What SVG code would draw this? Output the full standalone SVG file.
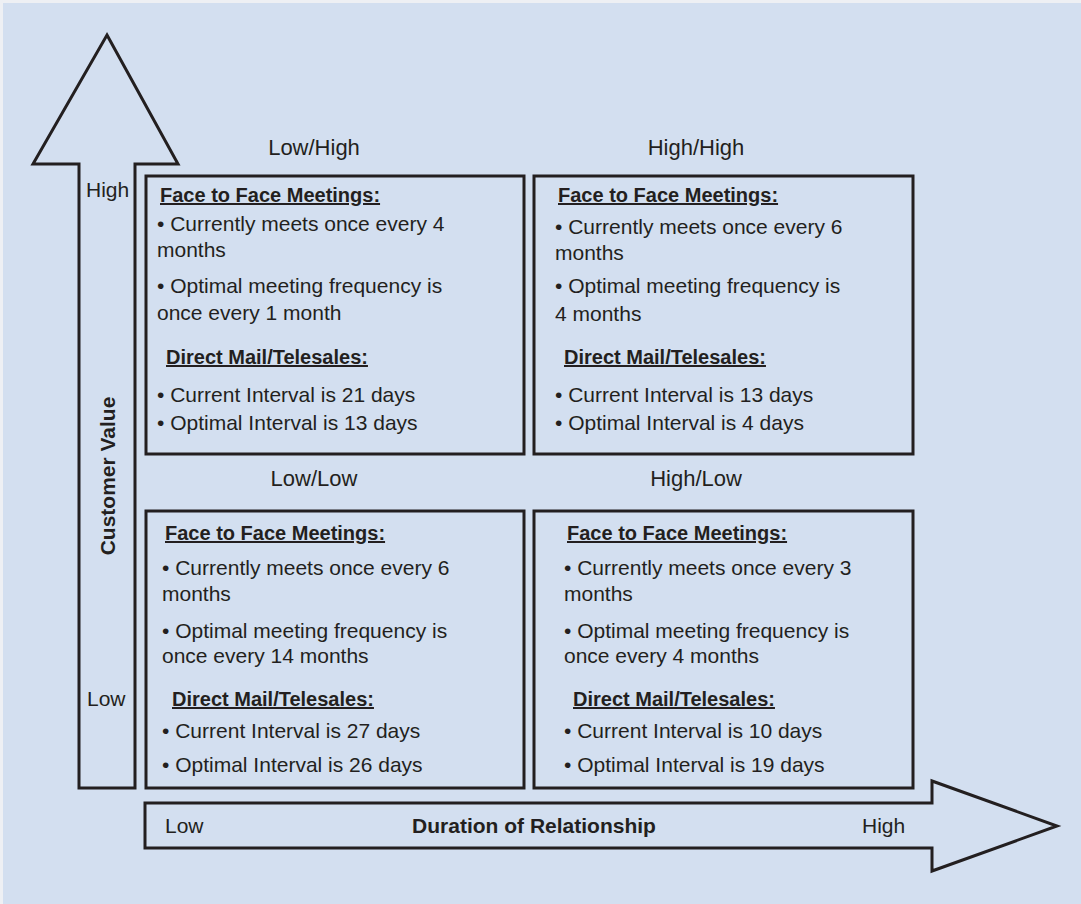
<svg xmlns="http://www.w3.org/2000/svg" width="1081" height="904" viewBox="0 0 1081 904">
<style>
.ln{fill:none;stroke:#231f20;stroke-width:3;stroke-linejoin:miter}
text{font-family:"Liberation Sans",Arial,sans-serif;fill:#231f20}
.b{font-size:21px}
.h{font-size:20px;font-weight:bold;text-decoration:underline}
.lab{font-size:22px;text-anchor:middle}
.ax{font-size:21px}
.axb{font-size:21px;font-weight:bold}
</style>
<rect x="0" y="0" width="1081" height="904" fill="#eef0f4"/>
<rect x="3" y="3" width="1078" height="901" fill="#d3dff0"/>
<g id="connectors">
<polygon id="yaxis" class="ln" points="107,35 178,164 135,164 135,788 79,788 79,164 33,164"/>
<polygon id="xaxis" class="ln" points="145,803 932,803 932,781 1057,826 932,871 932,848 145,848"/>
</g>
<g id="axis-labels">
<text class="ax" x="86" y="197">High</text>
<text class="ax" x="87" y="706">Low</text>
<text class="axb" transform="translate(115,476) rotate(-90)" text-anchor="middle">Customer Value</text>
<text class="ax" x="165" y="833">Low</text>
<text class="axb" x="534" y="833" text-anchor="middle">Duration of Relationship</text>
<text class="ax" x="862" y="833">High</text>
</g>
<g id="quadrant-labels">
<text class="lab" x="314" y="155">Low/High</text>
<text class="lab" x="696" y="155">High/High</text>
<text class="lab" x="314" y="486">Low/Low</text>
<text class="lab" x="696" y="486">High/Low</text>
</g>
<g id="box-low-high">
<rect class="ln" x="146" y="176" width="378" height="278"/>
<text class="h" x="160" y="202">Face to Face Meetings:</text>
<text class="b" x="157" y="231">• Currently meets once every 4</text>
<text class="b" x="157" y="257">months</text>
<text class="b" x="157" y="293">• Optimal meeting frequency is</text>
<text class="b" x="157" y="320">once every 1 month</text>
<text class="h" x="166" y="364">Direct Mail/Telesales:</text>
<text class="b" x="157" y="402">• Current Interval is 21 days</text>
<text class="b" x="157" y="430">• Optimal Interval is 13 days</text>
</g>
<g id="box-high-high">
<rect class="ln" x="534" y="176" width="379" height="278"/>
<text class="h" x="558" y="202">Face to Face Meetings:</text>
<text class="b" x="555" y="234">• Currently meets once every 6</text>
<text class="b" x="555" y="260">months</text>
<text class="b" x="555" y="293">• Optimal meeting frequency is</text>
<text class="b" x="555" y="321">4 months</text>
<text class="h" x="564" y="364">Direct Mail/Telesales:</text>
<text class="b" x="555" y="402">• Current Interval is 13 days</text>
<text class="b" x="555" y="430">• Optimal Interval is 4 days</text>
</g>
<g id="box-low-low">
<rect class="ln" x="146" y="511" width="378" height="277"/>
<text class="h" x="165" y="540">Face to Face Meetings:</text>
<text class="b" x="162" y="575">• Currently meets once every 6</text>
<text class="b" x="162" y="601">months</text>
<text class="b" x="162" y="638">• Optimal meeting frequency is</text>
<text class="b" x="162" y="663">once every 14 months</text>
<text class="h" x="172" y="706">Direct Mail/Telesales:</text>
<text class="b" x="162" y="738">• Current Interval is 27 days</text>
<text class="b" x="162" y="772">• Optimal Interval is 26 days</text>
</g>
<g id="box-high-low">
<rect class="ln" x="534" y="511" width="379" height="277"/>
<text class="h" x="567" y="540">Face to Face Meetings:</text>
<text class="b" x="564" y="575">• Currently meets once every 3</text>
<text class="b" x="564" y="601">months</text>
<text class="b" x="564" y="638">• Optimal meeting frequency is</text>
<text class="b" x="564" y="663">once every 4 months</text>
<text class="h" x="573" y="706">Direct Mail/Telesales:</text>
<text class="b" x="564" y="738">• Current Interval is 10 days</text>
<text class="b" x="564" y="772">• Optimal Interval is 19 days</text>
</g>
</svg>
